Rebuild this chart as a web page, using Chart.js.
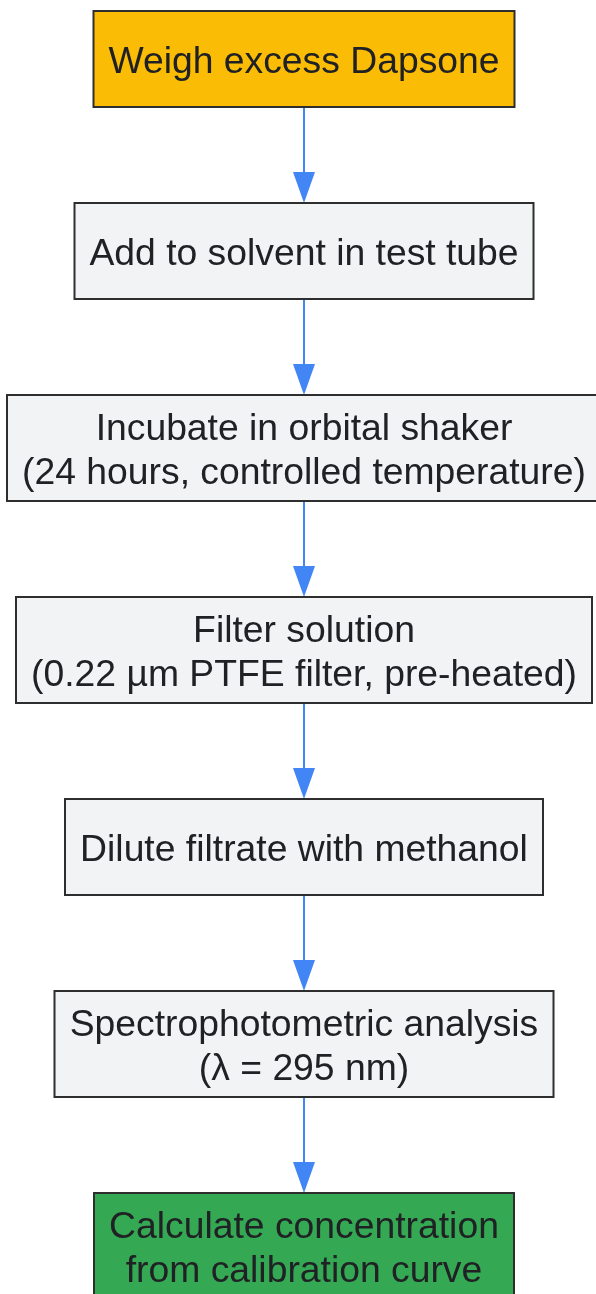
<!DOCTYPE html>
<html>
<head>
<meta charset="utf-8">
<script src="https://cdn.jsdelivr.net/npm/chart.js@4/dist/chart.umd.min.js"></script>
<style>
  html, body { margin: 0; padding: 0; background: #ffffff; overflow: hidden; }
  canvas { display: block; }
</style>
</head>
<body>
<canvas id="flow" width="596" height="1294"></canvas>
<script>
// Process steps, top to bottom. "\n" splits a label over two lines.
var steps = [
  'Weigh excess Dapsone',
  'Add to solvent in test tube',
  'Incubate in orbital shaker\n(24 hours, controlled temperature)',
  'Filter solution\n(0.22 \u00b5m PTFE filter, pre-heated)',
  'Dilute filtrate with methanol',
  'Spectrophotometric analysis\n(\u03bb = 295 nm)',
  'Calculate concentration\nfrom calibration curve'
];
var stepFills = ['#fbbc05', '#f1f3f4', '#f1f3f4', '#f1f3f4', '#f1f3f4', '#f1f3f4', '#34a853'];

// Layout (pixels)
var W = 596, H = 1294;
var columnX = 304;
var firstTop = 11;
var gap = 96;
var padX = 15;
var lineGap = 44;
var fontSpec = '37.3px "Liberation Sans", Arial, sans-serif';

function boxHeight(label) {
  return label.split('\n').length > 1 ? 106 : 96;
}

// stack the boxes: each one sits a fixed gap under the one before
var stepPoints = [];
(function () {
  var top = firstTop;
  steps.forEach(function (s) {
    var h = boxHeight(s);
    stepPoints.push({ x: columnX, y: top + h / 2 });
    top += h + gap;
  });
})();

var flowPlugin = {
  id: 'flowBoxes',
  afterDatasetsDraw: function (chart) {
    var ctx = chart.ctx;
    var pts = chart.getDatasetMeta(0).data;
    ctx.save();
    ctx.font = fontSpec;

    var boxes = pts.map(function (p, i) {
      var lines = steps[i].split('\n');
      var w = 0;
      lines.forEach(function (l) { w = Math.max(w, ctx.measureText(l).width); });
      w = Math.round(w + padX * 2);
      var h = boxHeight(steps[i]);
      return { x: p.x, y: p.y, w: w, h: h, lines: lines };
    });

    // connectors
    ctx.strokeStyle = '#4285f4';
    ctx.fillStyle = '#4285f4';
    ctx.lineWidth = 2;
    for (var i = 0; i < boxes.length - 1; i++) {
      var a = boxes[i], b = boxes[i + 1];
      var y0 = a.y + a.h / 2;
      var y1 = b.y - b.h / 2;
      var headLen = 31, headW = 11;
      ctx.beginPath();
      ctx.moveTo(a.x, y0);
      ctx.lineTo(a.x, y1 - headLen + 2);
      ctx.stroke();
      ctx.beginPath();
      ctx.moveTo(a.x - headW, y1 - headLen);
      ctx.lineTo(a.x + headW, y1 - headLen);
      ctx.lineTo(a.x, y1);
      ctx.closePath();
      ctx.fill();
    }

    // boxes and labels
    boxes.forEach(function (b, i) {
      ctx.fillStyle = stepFills[i];
      ctx.fillRect(b.x - b.w / 2, b.y - b.h / 2, b.w, b.h);
      ctx.strokeStyle = '#2e2e2e';
      ctx.lineWidth = 2;
      ctx.strokeRect(b.x - b.w / 2, b.y - b.h / 2, b.w, b.h);

      ctx.fillStyle = '#202124';
      ctx.textAlign = 'center';
      ctx.textBaseline = 'alphabetic';
      var n = b.lines.length;
      b.lines.forEach(function (l, k) {
        var base = b.y + 14 + (k - (n - 1) / 2) * lineGap;
        ctx.fillText(l, b.x, base);
      });
    });
    ctx.restore();
  }
};

new Chart(document.getElementById('flow'), {
  type: 'scatter',
  data: {
    datasets: [{
      label: 'steps',
      data: stepPoints,
      pointRadius: 0,
      showLine: false
    }]
  },
  options: {
    responsive: false,
    animation: false,
    events: [],
    layout: { padding: 0 },
    plugins: {
      legend: { display: false },
      tooltip: { enabled: false }
    },
    scales: {
      x: { type: 'linear', display: false, min: 0, max: W },
      y: { type: 'linear', display: false, reverse: true, min: 0, max: H }
    }
  },
  plugins: [flowPlugin]
});
</script>
</body>
</html>
